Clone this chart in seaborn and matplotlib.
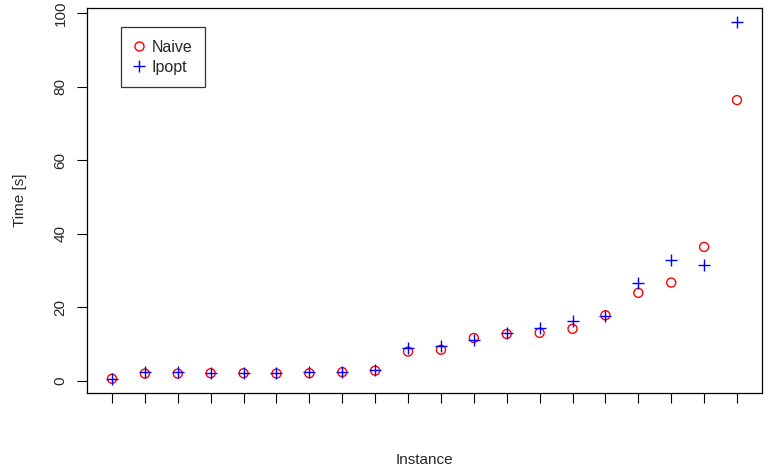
import matplotlib
matplotlib.use("Agg")
import matplotlib.pyplot as plt
import seaborn as sns
import pandas as pd
from matplotlib.lines import Line2D

instances = list(range(1, 21))
naive = [0.5, 1.9, 1.9, 2.0, 2.0, 1.9, 2.0, 2.3, 2.7, 7.9, 8.4, 11.6, 12.7, 13.0, 14.1, 17.8, 23.9, 26.7, 36.4, 76.4]
ipopt = [0.5, 2.2, 2.3, 2.0, 2.0, 2.0, 2.2, 2.3, 2.8, 8.8, 9.4, 11.0, 13.0, 14.2, 16.1, 17.6, 26.6, 32.8, 31.4, 97.6]
yticks = [0, 20, 40, 60, 80, 100]

df = pd.DataFrame({"Instance": instances, "Naive": naive, "Ipopt": ipopt})

sns.set_style("white")
plt.rcParams['font.family'] = ['Liberation Sans', 'DejaVu Sans']

W, H = 769, 473
fig = plt.figure(figsize=(W/100, H/100), dpi=100)
ax = fig.add_axes([87/W, (H-393)/H, (762-87)/W, (393-8)/H])

sns.scatterplot(data=df, x="Instance", y="Naive", ax=ax, marker="o", s=42,
                facecolors="none", edgecolor="red", linewidth=1.0, zorder=3)
sns.scatterplot(data=df, x="Instance", y="Ipopt", ax=ax, marker="+", s=75,
                color="blue", linewidth=1.0, zorder=4)

lo = min(min(naive), min(ipopt)); hi = max(max(naive), max(ipopt))
r = hi - lo
ax.set_ylim(lo - 0.04*r, hi + 0.04*r)
ax.set_xlim(1 - 0.04*19, 20 + 0.04*19)

ax.set_yticks(yticks)
ax.set_yticklabels([str(v) for v in yticks], rotation=90, va="center", fontsize=11)
ax.set_xticks(instances)
ax.set_xticklabels([""]*len(instances))
ax.tick_params(axis="both", direction="out", length=7, width=0.8, color="black",
               left=True, bottom=True, pad=7)

for s in ax.spines.values():
    s.set_visible(True)
    s.set_color("black")
    s.set_linewidth(0.9)

ax.set_xlabel("")
ax.set_ylabel("")
fig.text(424/W, 1-460/H, "Instance", ha="center", va="center", fontsize=11)
fig.text(20/W, 1-200/H, "Time [s]", ha="center", va="center", rotation=90, fontsize=11)

handles = [Line2D([], [], marker="o", linestyle="none", markerfacecolor="none",
                  markeredgecolor="red", markersize=6.5, markeredgewidth=1.0),
           Line2D([], [], marker="+", linestyle="none", color="blue",
                  markersize=8.5, markeredgewidth=1.0)]
leg = ax.legend(handles, ["Naive", "Ipopt"], loc="upper left",
                bbox_to_anchor=((121-87)/(762-87), 1-(27-8)/(393-8)),
                borderaxespad=0,
                frameon=True, fancybox=False, edgecolor="black", fontsize=11.5,
                handletextpad=0.4, borderpad=0.8, labelspacing=0.3,
                handlelength=0.7)
leg.get_frame().set_linewidth(0.9)

fig.savefig("out.png", dpi=100)
